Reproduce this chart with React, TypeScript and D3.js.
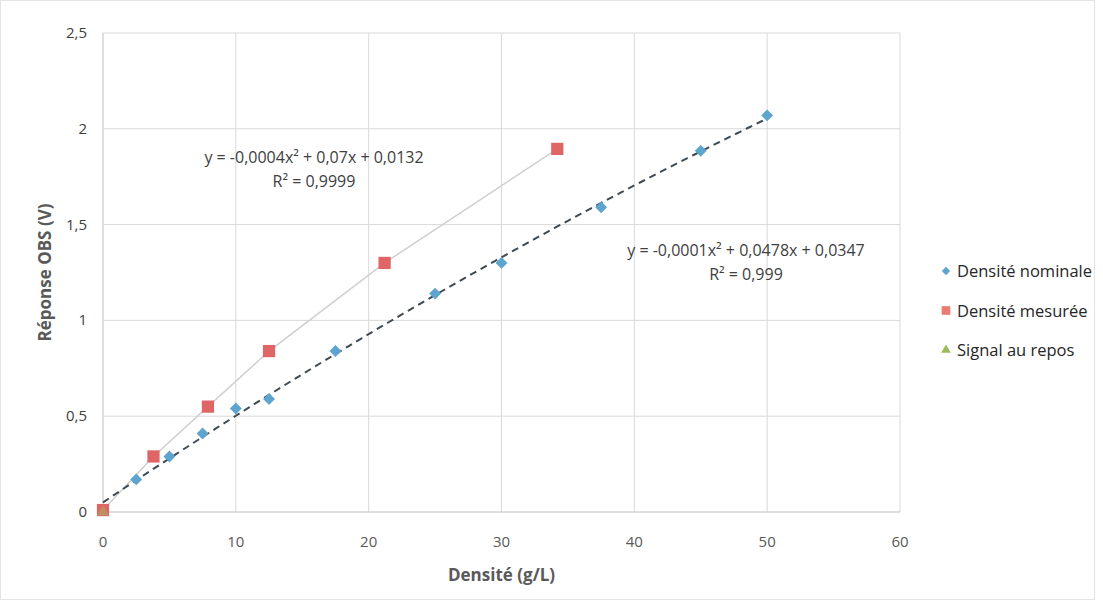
import { useRef, useEffect } from 'react';
import * as d3 from 'd3';

// Densité nominale
const nominalX = [0, 2.5, 5, 7.5, 10, 12.5, 17.5, 25, 30, 37.5, 45, 50];
const nominalY = [0.01, 0.17, 0.29, 0.41, 0.54, 0.59, 0.84, 1.14, 1.3, 1.59, 1.885, 2.07];

// Densité mesurée
const measuredX = [0, 3.8, 7.9, 12.5, 21.2, 34.2];
const measuredY = [0.01, 0.29, 0.55, 0.84, 1.3, 1.895];

// Signal au repos
const restX = [0];
const restY = [0];

const xTicks = [0, 10, 20, 30, 40, 50, 60];
const yTicks = [0, 0.5, 1, 1.5, 2, 2.5];

const legendLabels = ['Densité nominale', 'Densité mesurée', 'Signal au repos'];
const eqMeasured = ['y = -0,0004x² + 0,07x + 0,0132', 'R² = 0,9999'];
const eqNominal = ['y = -0,0001x² + 0,0478x + 0,0347', 'R² = 0,999'];

// least squares quadratic fit, returns [a, b, c] for a x² + b x + c
function quadFit(xs: number[], ys: number[]) {
  const s = (f: (x: number, y: number) => number) => d3.sum(xs, (x, i) => f(x, ys[i]));
  const n = xs.length;
  const sx = s((x) => x), sx2 = s((x) => x * x), sx3 = s((x) => x ** 3), sx4 = s((x) => x ** 4);
  const sy = s((x, y) => y), sxy = s((x, y) => x * y), sx2y = s((x, y) => x * x * y);
  const m = [
    [sx4, sx3, sx2, sx2y],
    [sx3, sx2, sx, sxy],
    [sx2, sx, n, sy],
  ];
  for (let i = 0; i < 3; i++) {
    for (let k = i + 1; k < 3; k++) {
      const f = m[k][i] / m[i][i];
      for (let j = i; j < 4; j++) m[k][j] -= f * m[i][j];
    }
  }
  const r = [0, 0, 0];
  for (let i = 2; i >= 0; i--) {
    let v = m[i][3];
    for (let j = i + 1; j < 3; j++) v -= m[i][j] * r[j];
    r[i] = v / m[i][i];
  }
  return r;
}

export default function App() {
  const svgRef = useRef<SVGSVGElement>(null);

  useEffect(() => {
    const W = 1103;
    const H = 602;
    const margin = { left: 103, right: 203, top: 33, bottom: 90 };
    const font = '"Open Sans", Lato, sans-serif';
    const svg = d3.select(svgRef.current).attr('width', W).attr('height', H);
    svg.selectAll('*').remove();

    svg.append('rect').attr('x', 0.5).attr('y', 0.5).attr('width', W - 9).attr('height', H - 3)
      .attr('fill', '#fff').attr('stroke', '#e4e4e4');

    const xScale = d3.scaleLinear().domain([0, 60]).range([margin.left, W - margin.right]);
    const yScale = d3.scaleLinear().domain([0, 2.5]).range([H - margin.bottom, margin.top]);

    // grid
    const g = svg.append('g');
    g.selectAll('.vg').data(xTicks).enter().append('line')
      .attr('x1', (d) => xScale(d)).attr('x2', (d) => xScale(d))
      .attr('y1', yScale(0)).attr('y2', yScale(2.5))
      .attr('stroke', (d) => (d === 0 ? '#bfbfbf' : '#d9d9d9')).attr('stroke-width', 1);
    g.selectAll('.hg').data(yTicks).enter().append('line')
      .attr('x1', xScale(0)).attr('x2', xScale(60))
      .attr('y1', (d) => yScale(d)).attr('y2', (d) => yScale(d))
      .attr('stroke', (d) => (d === 0 ? '#bfbfbf' : '#d9d9d9')).attr('stroke-width', 1);

    // tick labels
    svg.selectAll('.xt').data(xTicks).enter().append('text')
      .attr('x', (d) => xScale(d)).attr('y', yScale(0) + 35)
      .attr('text-anchor', 'middle').attr('font-family', font).attr('font-size', 15).attr('fill', '#595959')
      .text((d) => d3.format('d')(d));
    svg.selectAll('.yt').data(yTicks).enter().append('text')
      .attr('x', xScale(0) - 16).attr('y', (d) => yScale(d) + 5)
      .attr('text-anchor', 'end').attr('font-family', font).attr('font-size', 15).attr('fill', '#404040')
      .text((d) => String(d).replace('.', ','));

    // axis titles
    svg.append('text').attr('x', (xScale(0) + xScale(60)) / 2).attr('y', 581)
      .attr('text-anchor', 'middle').attr('font-family', font).attr('font-size', 17)
      .attr('font-weight', 'bold').attr('fill', '#595959').text('Densité (g/L)');
    svg.append('text')
      .attr('transform', `translate(51, ${(yScale(0) + yScale(2.5)) / 2}) rotate(-90)`)
      .attr('text-anchor', 'middle').attr('font-family', font).attr('font-size', 17)
      .attr('font-weight', 'bold').attr('fill', '#595959').text('Réponse OBS (V)');

    // measured: light gray connecting line, nominal: dashed polynomial trendline
    const line = d3.line<number[]>().x((d) => xScale(d[0])).y((d) => yScale(d[1]));
    const mPts = measuredX.map((x, i) => [x, measuredY[i]]);
    const [na, nb, nc] = quadFit(nominalX, nominalY);
    const nPts = d3.range(0, 50 + 0.01, 0.5).map((x) => [x, na * x * x + nb * x + nc]);
    svg.append('path').attr('d', line(mPts)).attr('fill', 'none')
      .attr('stroke', '#cfcfcf').attr('stroke-width', 1.5);
    svg.append('path').attr('d', line(nPts)).attr('fill', 'none')
      .attr('stroke', '#404a52').attr('stroke-width', 2).attr('stroke-dasharray', '7,5');

    // markers
    const diamond = d3.symbol().type(d3.symbolDiamond2).size(90);
    const square = d3.symbol().type(d3.symbolSquare).size(150);
    const triangle = d3.symbol().type(d3.symbolTriangle).size(60);

    svg.selectAll('.nom').data(nominalX).enter().append('path')
      .attr('d', diamond).attr('transform', (d, i) => `translate(${xScale(d)},${yScale(nominalY[i])})`)
      .attr('fill', '#5da5cf');
    svg.selectAll('.mes').data(measuredX).enter().append('path')
      .attr('d', square).attr('transform', (d, i) => `translate(${xScale(d)},${yScale(measuredY[i])})`)
      .attr('fill', '#e06666');
    svg.selectAll('.rep').data(restX).enter().append('path')
      .attr('d', triangle).attr('transform', (d, i) => `translate(${xScale(d)},${yScale(restY[i])})`)
      .attr('fill', '#9bbb59').attr('opacity', 0.5);

    // equations
    const eq = (lines: string[], cx: number, y0: number) => {
      lines.forEach((t, i) => {
        svg.append('text').attr('x', cx).attr('y', y0 + i * 24)
          .attr('text-anchor', 'middle').attr('font-family', font).attr('font-size', 16)
          .attr('fill', '#404040').text(t);
      });
    };
    eq(eqMeasured, 314, 163);
    eq(eqNominal, 746, 256);

    // legend
    const lg = svg.append('g');
    const legendSyms = [
      { s: d3.symbol().type(d3.symbolDiamond2).size(45), c: '#5da5cf' },
      { s: d3.symbol().type(d3.symbolSquare).size(75), c: '#e87c73' },
      { s: d3.symbol().type(d3.symbolTriangle).size(40), c: '#9bbb59' },
    ];
    legendLabels.forEach((t, i) => {
      const y = 272 + i * 39.5;
      lg.append('path').attr('d', legendSyms[i].s).attr('transform', `translate(946,${y - 1})`)
        .attr('fill', legendSyms[i].c);
      lg.append('text').attr('x', 957).attr('y', y + 5).attr('font-family', font)
        .attr('font-size', 16.5).attr('fill', '#262626').text(t);
    });
  }, []);

  return <svg ref={svgRef} style={{ position: 'absolute', left: 0, top: 0 }}></svg>;
}
